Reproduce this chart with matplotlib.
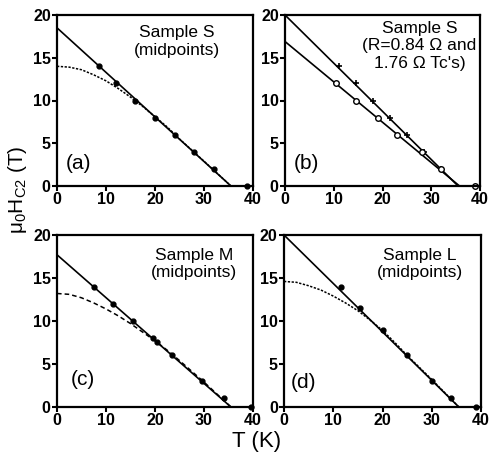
import numpy as np
import matplotlib
matplotlib.use("Agg")
import matplotlib.pyplot as plt

plt.rcParams['font.family'] = ['Liberation Sans', 'DejaVu Sans']
plt.rcParams['mathtext.fontset'] = 'custom'
plt.rcParams['mathtext.rm'] = 'Liberation Sans'
plt.rcParams['mathtext.it'] = 'Liberation Sans:italic'

# ---- data ----
# (a) Sample S, midpoints
a_T = [8.5, 12, 16, 20, 24, 28, 32, 38.8]
a_H = [14, 12, 10, 8, 6, 4, 2, 0]
a_fitT = [0, 35.5]
a_fitH = [18.5, 0]
a_curveT = [0, 2.5, 5, 7.5, 10, 12.5, 15, 17.5, 20, 22.5, 25, 30, 35.5]
a_curveH = [14.0, 13.9, 13.6, 13.0, 12.3, 11.4, 10.4, 9.3, 8.1, 6.9, 5.5, 2.9, 0]

# (b) Sample S, R=0.84 and 1.76 ohm
b1_T = [11, 14.5, 18, 21.5, 25, 28.5, 32]
b1_H = [14, 12, 10, 8, 6, 4, 2]
b1_fitT = [0, 35.5]
b1_fitH = [20, 0]
b2_T = [10.5, 14.5, 19, 23, 28, 32, 39]
b2_H = [12, 10, 8, 6, 4, 2, 0]
b2_fitT = [0, 35.8]
b2_fitH = [16.9, 0]

# (c) Sample M, midpoints
c_T = [7.5, 11.5, 15.5, 19.5, 20.5, 23.5, 29.5, 34, 39.5]
c_H = [14, 12, 10, 8, 7.6, 6, 3, 1, 0]
c_fitT = [0, 35.5]
c_fitH = [17.7, 0]
c_curveT = [0, 2.5, 5, 7.5, 10, 12.5, 15, 17.5, 20, 22.5, 25, 30, 35.5]
c_curveH = [13.2, 13.1, 12.7, 12.1, 11.4, 10.6, 9.7, 8.7, 7.7, 6.6, 5.4, 2.9, 0]

# (d) Sample L, midpoints
d_T = [11.5, 15.5, 20, 25, 30, 34, 39]
d_H = [14, 11.5, 9, 6, 3, 1, 0]
d_fitT = [0, 35.5]
d_fitH = [20, 0]
d_curveT = [0, 2.5, 5, 7.5, 10, 12.5, 15, 17.5, 20, 22.5, 25, 27.5, 30, 35.5]
d_curveH = [14.6, 14.5, 14.1, 13.6, 12.9, 12.1, 11.2, 10.1, 8.9, 7.5, 6.0, 4.6, 3.2, 0]

texts = ["Sample S\n(midpoints)",
         "Sample S\n(R=0.84 \u03a9 and\n1.76 \u03a9 Tc's)",
         "Sample M\n(midpoints)",
         "Sample L\n(midpoints)"]
labels = ["(a)", "(b)", "(c)", "(d)"]

fig = plt.figure(figsize=(4.9, 4.57), dpi=100)
W, H = 490, 457
boxes = [(57, 15, 196, 171), (285, 15, 195, 171),
         (57, 235, 196, 172), (284, 235, 197, 172)]
axs = [fig.add_axes([x / W, 1 - (y + h) / H, w / W, h / H]) for x, y, w, h in boxes]

for ax in axs:
    ax.set_xlim(0, 40)
    ax.set_ylim(0, 20)
    ax.set_xticks([0, 10, 20, 30, 40])
    ax.set_yticks([0, 5, 10, 15, 20])
    ax.tick_params(direction='out', length=3.5, width=1.5, labelsize=11.5, pad=1)
    for lab in ax.get_xticklabels() + ax.get_yticklabels():
        lab.set_fontweight('bold')
    for s in ax.spines.values():
        s.set_linewidth(1.6)

mk = dict(marker='o', ms=3.5, color='k', ls='none', clip_on=False)

ax = axs[0]
ax.plot(a_fitT, a_fitH, 'k-', lw=1.2)
ax.plot(a_curveT, a_curveH, 'k', ls=(0, (1.5, 1)), lw=1.1)
ax.plot(a_T, a_H, **mk)

ax = axs[1]
ax.plot(b1_fitT, b1_fitH, 'k-', lw=1.2)
ax.plot(b2_fitT, b2_fitH, 'k-', lw=1.2)
ax.plot(b1_T, b1_H, marker='+', ms=5, mew=1.2, color='k', ls='none')
ax.plot(b2_T, b2_H, marker='o', ms=4, mfc='white', mec='k', mew=1.0, ls='none', clip_on=False)

ax = axs[2]
ax.plot(c_fitT, c_fitH, 'k-', lw=1.2)
ax.plot(c_curveT, c_curveH, 'k', ls=(0, (3, 2)), lw=1.1)
ax.plot(c_T, c_H, **mk)

ax = axs[3]
ax.plot(d_fitT, d_fitH, 'k-', lw=1.2)
ax.plot(d_curveT, d_curveH, 'k', ls=(0, (1.5, 1)), lw=1.1)
ax.plot(d_T, d_H, **mk)

txt_pos = [(0.61, 0.94), (0.69, 0.965), (0.70, 0.925), (0.69, 0.925)]
lab_pos = [(0.11, 0.13), (0.11, 0.13), (0.13, 0.16), (0.10, 0.14)]
for ax, t, l, tp, lp in zip(axs, texts, labels, txt_pos, lab_pos):
    ax.text(tp[0], tp[1], t, transform=ax.transAxes, ha='center', va='top',
            fontsize=12.5, linespacing=1.2, multialignment='center')
    ax.text(lp[0], lp[1], l, transform=ax.transAxes, ha='center', va='center',
            fontsize=15)

fig.text(0.036, 0.585, r'$\mathregular{\mu_0H_{C2}}$ (T)', rotation=90,
         ha='center', va='center', fontsize=15)
fig.text(0.524, 0.033, 'T (K)', ha='center', va='center', fontsize=16)

fig.savefig('out.png', dpi=100)
